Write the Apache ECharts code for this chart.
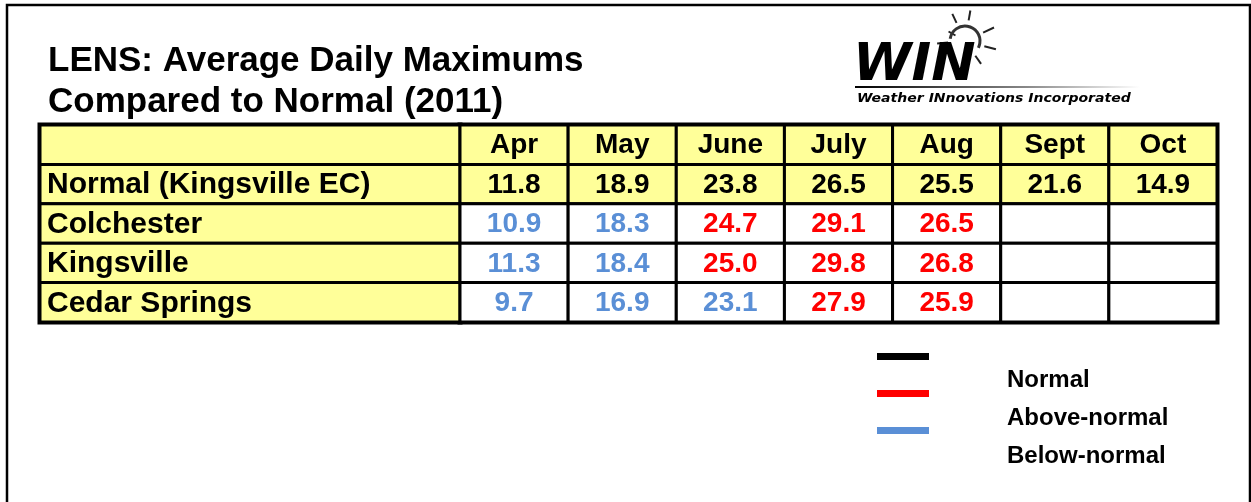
<!DOCTYPE html>
<html>
<head>
<meta charset="utf-8">
<title>LENS: Average Daily Maximums</title>
<script src="https://cdn.jsdelivr.net/npm/echarts@6/dist/echarts.min.js"></script>
<style>
  html, body { margin: 0; padding: 0; background: #fff; }
  #main { width: 1251px; height: 502px; }
</style>
</head>
<body>
<div id="main"></div>
<script>
// table data
var months = ['Apr', 'May', 'June', 'July', 'Aug', 'Sept', 'Oct'];
var rowLabels = ['', 'Normal (Kingsville EC)', 'Colchester', 'Kingsville', 'Cedar Springs'];
var normal = [11.8, 18.9, 23.8, 26.5, 25.5, 21.6, 14.9];
var colchester = [10.9, 18.3, 24.7, 29.1, 26.5, null, null];
var kingsville = [11.3, 18.4, 25.0, 29.8, 26.8, null, null];
var cedarSprings = [9.7, 16.9, 23.1, 27.9, 25.9, null, null];
var legendNames = ['Normal', 'Above-normal', 'Below-normal'];

var YELLOW = '#ffff99';
var RED = '#ff0000';
var BLUE = '#5a8fd6';
var FONT = '"Liberation Sans", Arial, sans-serif';

var stations = [colchester, kingsville, cedarSprings];

// one entry per cell of the month part of the table
var cells = [];
months.forEach(function (m, c) {
  cells.push({ value: [c, 0], text: m, color: '#000', fill: YELLOW });
  cells.push({ value: [c, 1], text: normal[c].toFixed(1), color: '#000', fill: YELLOW });
  stations.forEach(function (arr, i) {
    var v = arr[c];
    var col = '#000';
    if (v != null) col = v > normal[c] ? RED : (v < normal[c] ? BLUE : '#000');
    cells.push({ value: [c, i + 2], text: v == null ? '' : v.toFixed(1), color: col, fill: '#fff' });
  });
});

var labelCells = rowLabels.map(function (t, i) {
  return { value: [0, i], text: t };
});

function cellRect(c, s) {
  return { x: c[0] - s[0] / 2, y: c[1] - s[1] / 2, width: s[0], height: s[1] };
}

function renderMonthCell(params, api) {
  var c = api.coord([api.value(0), api.value(1)]);
  var s = api.size([1, 1]);
  var d = cells[params.dataIndex];
  return {
    type: 'group',
    children: [{
      type: 'rect',
      shape: cellRect(c, s),
      style: { fill: d.fill, stroke: '#000', lineWidth: 3 }
    }, {
      type: 'text',
      style: {
        text: d.text, x: c[0], y: c[1] + 1,
        fill: d.color, font: 'bold 28px ' + FONT,
        align: 'center', verticalAlign: 'middle',
        textAlign: 'center', textVerticalAlign: 'middle'
      }
    }]
  };
}

function renderLabelCell(params, api) {
  var c = api.coord([api.value(0), api.value(1)]);
  var s = api.size([1, 1]);
  var d = labelCells[params.dataIndex];
  return {
    type: 'group',
    children: [{
      type: 'rect',
      shape: cellRect(c, s),
      style: { fill: YELLOW, stroke: '#000', lineWidth: 3 }
    }, {
      type: 'text',
      style: {
        text: d.text, x: c[0] - s[0] / 2 + 7, y: c[1] + 1,
        fill: '#000', font: 'bold 30px ' + FONT,
        align: 'left', verticalAlign: 'middle',
        textAlign: 'left', textVerticalAlign: 'middle'
      }
    }]
  };
}

// WIN logo, drawn roughly
var sunCx = 965, sunCy = 41;
var rays = [[-150, 11, 19], [-115, 20, 30], [-80, 21, 31], [-25, 20, 32], [15, 20, 32], [55, 18, 28], [175, 17, 28]];
var logo = rays.map(function (r) {
  var a = r[0] * Math.PI / 180;
  return {
    type: 'line',
    shape: {
      x1: sunCx + Math.cos(a) * r[1], y1: sunCy + Math.sin(a) * r[1],
      x2: sunCx + Math.cos(a) * r[2], y2: sunCy + Math.sin(a) * r[2]
    },
    style: { stroke: '#222', lineWidth: 2 }
  };
});
logo.push({
  type: 'arc',
  shape: { cx: sunCx, cy: sunCy, r: 15, startAngle: Math.PI * 1.05, endAngle: Math.PI * 2.15 },
  style: { stroke: '#333', lineWidth: 3, fill: null }
});
logo.push({
  type: 'text', x: 853, y: 66, scaleX: 1.02,
  style: { text: 'WIN', font: 'italic bold 52px "DejaVu Sans", ' + FONT, fill: '#000', verticalAlign: 'middle', textVerticalAlign: 'middle' }
});
logo.push({
  type: 'rect',
  shape: { x: 855, y: 86, width: 285, height: 2 },
  style: {
    fill: new echarts.graphic.LinearGradient(0, 0, 1, 0, [
      { offset: 0, color: '#000' }, { offset: 0.6, color: '#888' }, { offset: 1, color: '#fff' }
    ])
  }
});
logo.push({
  type: 'text', x: 857, y: 98.5, scaleX: 1.08,
  style: { text: 'Weather INnovations Incorporated', font: 'italic bold 13px "DejaVu Sans", ' + FONT, fill: '#000', verticalAlign: 'middle', textVerticalAlign: 'middle' }
});

var legendBarColors = ['#000', RED, BLUE];
var legendGraphics = [];
legendNames.forEach(function (name, i) {
  legendGraphics.push({
    type: 'rect',
    shape: { x: 877, y: 353 + i * 37, width: 52, height: 7 },
    style: { fill: legendBarColors[i] }
  });
  legendGraphics.push({
    type: 'text', x: 1007, y: 380 + i * 38,
    style: { text: name, font: 'bold 24px ' + FONT, fill: '#000', verticalAlign: 'middle', textVerticalAlign: 'middle' }
  });
});

var myChart = echarts.init(document.getElementById('main'));
myChart.setOption({
  animation: false,
  backgroundColor: '#fff',
  grid: [
    { left: 40, top: 125, width: 420, height: 197, show: true, borderColor: '#000', borderWidth: 5 },
    { left: 460, top: 125, width: 757, height: 197, show: true, borderColor: '#000', borderWidth: 5 }
  ],
  xAxis: [
    { gridIndex: 0, type: 'category', data: ['label'], show: false },
    { gridIndex: 1, type: 'category', data: months, show: false }
  ],
  yAxis: [
    { gridIndex: 0, type: 'category', data: rowLabels, inverse: true, show: false },
    { gridIndex: 1, type: 'category', data: rowLabels, inverse: true, show: false }
  ],
  series: [{
    type: 'custom',
    xAxisIndex: 0, yAxisIndex: 0,
    renderItem: renderLabelCell,
    data: labelCells
  }, {
    type: 'custom',
    xAxisIndex: 1, yAxisIndex: 1,
    renderItem: renderMonthCell,
    data: cells
  }],
  graphic: [{
    type: 'rect',
    shape: { x: 7, y: 5, width: 1243, height: 520 },
    style: { fill: null, stroke: '#000', lineWidth: 2.5 }
  }, {
    type: 'text', x: 48, y: 61,
    style: { text: 'LENS: Average Daily Maximums', font: 'bold 35px ' + FONT, fill: '#000', verticalAlign: 'middle', textVerticalAlign: 'middle' }
  }, {
    type: 'text', x: 48, y: 102,
    style: { text: 'Compared to Normal (2011)', font: 'bold 35px ' + FONT, fill: '#000', verticalAlign: 'middle', textVerticalAlign: 'middle' }
  }].concat(logo, legendGraphics)
});

window.addEventListener('resize', function () {
  myChart.resize();
});
</script>
</body>
</html>
